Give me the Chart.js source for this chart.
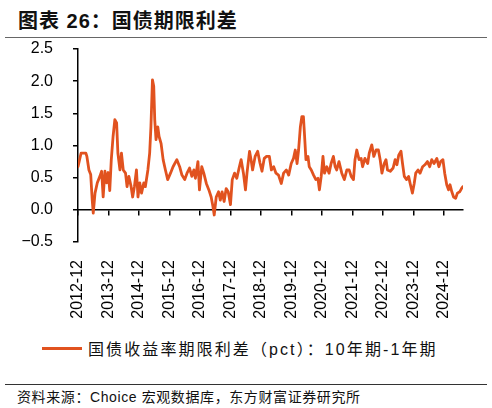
<!DOCTYPE html>
<html>
<head>
<meta charset="utf-8">
<script src="https://cdn.jsdelivr.net/npm/chart.js@4.4.1/dist/chart.umd.min.js"></script>
<style>
  body { margin: 0; width: 492px; height: 408px; background: #fff; position: relative; overflow: hidden;
         font-family: "Liberation Sans", "Noto Sans CJK SC", sans-serif; color: #111; }
  #title { position: absolute; left: 18px; top: 5px; font-size: 20px; font-weight: bold;
           font-family: "Liberation Sans", "Noto Sans CJK SC", sans-serif; letter-spacing: 1px; }
  .rule { position: absolute; left: 5px; width: 482px; height: 1px; background: #666; }
  #chartBox { position: absolute; left: 0; top: 40px; width: 492px; height: 290px; }
  #legend { position: absolute; left: 42px; top: 336px; font-size: 16px; letter-spacing: 2.1px;
            font-family: "Liberation Sans", "Noto Sans CJK SC", sans-serif; display: flex; align-items: center; }
  #legend .swatch { width: 40px; height: 3px; margin-right: 6px; }
  #source { position: absolute; left: 17px; top: 386px; font-size: 14px; letter-spacing: 0.6px;
            font-family: "Liberation Sans", "Noto Sans CJK SC", sans-serif; }
</style>
</head>
<body>
<div id="title">图表 26：国债期限利差</div>
<div class="rule" style="top:37px"></div>
<div id="chartBox"><canvas id="spreadChart"></canvas></div>
<div id="legend"><span class="swatch" id="legendSwatch"></span><span id="legendText"></span></div>
<div class="rule" style="top:384px; background:#333"></div>
<div id="source">资料来源：Choice 宏观数据库，东方财富证券研究所</div>
<script>
const LINE_COLOR = '#E1521F';
const seriesName = '国债收益率期限利差（pct）：10年期-1年期';

// 横轴：距 2012-12 的月数
const monthOffset = [
  0, 1.2, 3.1, 3.5, 4.3, 5.0, 5.6, 6.0, 6.7, 7.6, 8.6, 9.3, 9.9, 10.6, 11.3, 11.9,
  12.5, 13.1, 13.8, 14.5, 15.2, 15.7, 16.5, 17.1, 17.8, 18.7, 19.3, 20.0, 20.9, 21.5, 22.2, 23.0,
  23.6, 24.3, 25.0, 25.9, 26.5, 27.5, 28.2, 28.7, 29.3, 29.8, 30.2, 30.7, 31.4, 31.9, 32.7, 33.5,
  34.4, 35.3, 36.4, 37.4, 38.9, 40.0, 40.9, 42.0, 42.9, 43.9, 44.8, 45.6, 46.2, 47.2, 47.8, 48.7,
  49.5, 50.5, 51.5, 52.4, 53.1, 53.6, 54.4, 55.3, 56.0, 56.7, 57.5, 58.3, 59.1, 60.0, 60.7, 61.6,
  62.5, 63.5, 64.2, 65.1, 65.9, 66.5, 67.5, 68.1, 68.7, 69.7, 70.7, 71.6, 72.4, 73.3, 74.2, 75.3,
  76.1, 77.0, 77.9, 78.9, 80.0, 80.9, 82.0, 82.9, 83.9, 84.8, 85.5, 86.2, 86.8, 87.5, 88.1, 88.7,
  89.1, 89.7, 90.5, 91.0, 91.8, 92.7, 93.6, 94.4, 95.0, 95.7, 96.4, 97.0, 97.9, 98.8, 99.6, 100.5,
  101.2, 101.8, 102.7, 103.8, 104.8, 105.8, 106.7, 107.5, 108.4, 109.0, 109.7, 110.6, 111.4, 112.0, 112.9, 114.0,
  114.6, 115.6, 116.4, 117.3, 118.2, 118.9, 119.6, 120.5, 121.2, 121.8, 122.9, 124.0, 124.8, 125.5, 126.2, 127.1,
  127.7, 128.4, 129.3, 130.1, 130.7, 131.6, 132.3, 132.9, 133.8, 134.6, 135.6, 136.5, 137.5, 138.4, 139.2, 140.1,
  141.2, 142.0, 142.7, 143.6, 144.3, 145.1, 145.8, 146.4, 147.1, 147.8, 148.6, 149.3, 150.2, 150.9, 151.4
];

// 10年期-1年期 利差（pct）
const spread = [
  0.67, 0.88, 0.88, 0.83, 0.62, 0.55, 0.15, -0.05, 0.26, 0.42, 0.52, 0.60, 0.20, 0.60, 0.42, 0.58,
  0.30, 0.78, 1.14, 1.40, 1.35, 0.88, 0.62, 0.88, 0.62, 0.57, 0.36, 0.52, 0.36, 0.20, 0.36, 0.62,
  0.20, 0.42, 0.26, 0.42, 0.36, 0.62, 0.88, 1.29, 2.02, 1.92, 1.40, 1.09, 1.29, 1.14, 1.03, 0.78,
  0.62, 0.47, 0.57, 0.67, 0.78, 0.67, 0.54, 0.47, 0.57, 0.65, 0.52, 0.62, 0.49, 0.75, 0.31, 0.67,
  0.57, 0.41, 0.31, 0.20, 0.05, -0.08, 0.20, 0.28, 0.15, 0.28, 0.13, 0.33, 0.28, 0.08, 0.47, 0.57,
  0.49, 0.67, 0.78, 0.57, 0.31, 0.57, 0.91, 0.78, 0.62, 0.83, 0.91, 0.73, 0.60, 0.80, 0.83, 0.83,
  0.62, 0.67, 0.57, 0.54, 0.41, 0.57, 0.62, 0.54, 0.72, 0.80, 0.93, 0.72, 0.93, 1.29, 1.45, 1.45,
  1.19, 0.78, 0.83, 0.67, 0.62, 0.54, 0.47, 0.49, 0.31, 0.52, 0.83, 0.57, 0.67, 0.57, 0.72, 0.83,
  0.67, 0.62, 0.75, 0.57, 0.47, 0.62, 0.62, 0.52, 0.47, 0.78, 0.93, 0.78, 0.80, 0.67, 0.80, 0.72,
  0.88, 1.01, 0.83, 0.93, 0.93, 0.78, 0.57, 0.72, 0.78, 0.62, 0.60, 0.65, 0.78, 0.70, 0.85, 0.91,
  0.72, 0.52, 0.47, 0.52, 0.41, 0.26, 0.41, 0.57, 0.62, 0.57, 0.67, 0.70, 0.75, 0.67, 0.78, 0.72,
  0.80, 0.67, 0.75, 0.78, 0.57, 0.39, 0.31, 0.39, 0.28, 0.20, 0.18, 0.26, 0.28, 0.33, 0.36
];

const tickLabels = ['2012-12', '2013-12', '2014-12', '2015-12', '2016-12', '2017-12', '2018-12',
  '2019-12', '2020-12', '2021-12', '2022-12', '2023-12', '2024-12'];

const X_MAX = 151.5;

document.getElementById('legendSwatch').style.background = LINE_COLOR;
document.getElementById('legendText').innerText = seriesName;

const ctx = document.getElementById('spreadChart').getContext('2d');
new Chart(ctx, {
  type: 'line',
  data: {
    datasets: [{
      label: seriesName,
      data: monthOffset.map((m, i) => ({ x: m, y: spread[i] })),
      borderColor: LINE_COLOR,
      backgroundColor: LINE_COLOR,
      borderWidth: 2.8,
      borderJoinStyle: 'round',
      borderCapStyle: 'round',
      pointRadius: 0,
      tension: 0,
      fill: false
    }]
  },
  options: {
    responsive: true,
    maintainAspectRatio: false,
    animation: false,
    layout: { padding: { left: 0, right: 29, top: 9, bottom: 0 } },
    plugins: { legend: { display: false }, tooltip: { enabled: false } },
    scales: {
      x: {
        type: 'linear',
        position: 'bottom',
        min: 0,
        max: X_MAX,
        grid: { display: false },
        border: { display: false },
        ticks: {
          stepSize: 12,
          includeBounds: false,
          autoSkip: false,
          minRotation: 90,
          maxRotation: 90,
          padding: 10,
          color: '#000',
          font: { size: 16, family: '"Liberation Sans", Arial, sans-serif' },
          callback: v => (v % 12 === 0 ? tickLabels[v / 12] : '')
        },
        afterFit: s => { s.height = 88; }
      },
      // 零线及年度刻度
      x2: {
        type: 'linear',
        position: { y: 0 },
        min: 0,
        max: X_MAX,
        grid: { display: true, drawOnChartArea: false, drawTicks: true, tickLength: 5, color: '#000', lineWidth: 1.5 },
        border: { display: true, color: '#000', width: 1.5 },
        ticks: { display: false, stepSize: 12, includeBounds: false },
        afterFit: s => { s.height = 0; }
      },
      y: {
        min: -0.5,
        max: 2.5,
        position: 'left',
        grid: { display: true, drawOnChartArea: false, drawTicks: true, tickLength: 5, color: '#000', lineWidth: 1.5 },
        border: { display: true, color: '#000', width: 1.5 },
        ticks: {
          stepSize: 0.5,
          padding: 20,
          color: '#000',
          font: { size: 16, family: '"Liberation Sans", Arial, sans-serif' },
          callback: v => (v < 0 ? '\u2212' : '') + Math.abs(v).toFixed(1)
        },
        // ticks.padding 也会撑大上下留白，这里去掉
        afterFit: s => { s.width = 78; s.paddingTop = 0; s.paddingBottom = 0; }
      }
    }
  }
});
</script>
</body>
</html>
